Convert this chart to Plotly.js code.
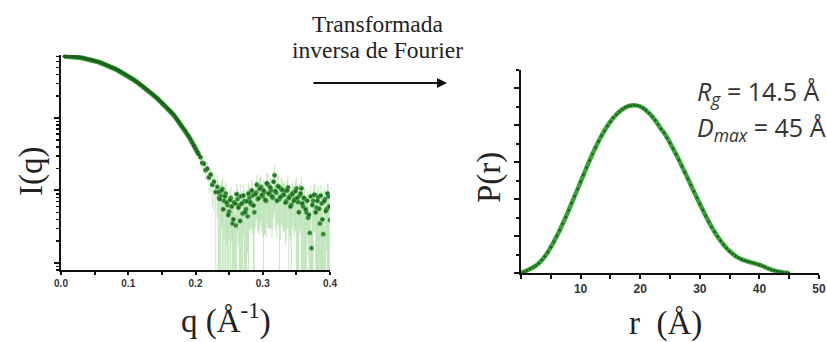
<!DOCTYPE html>
<html>
<head>
<meta charset="utf-8">
<script src="https://cdn.plot.ly/plotly-3.0.1.min.js"></script>
<style>
  html, body { margin: 0; padding: 0; background: #fff; }
  #chart { width: 827px; height: 342px; }
</style>
</head>
<body>
<div id="chart"></div>
<script>
// SAXS scattering curve I(q): smooth Guinier region (q from 0.005, step 0.0025)
const qStartSmooth = 0.005;
const qStep = 0.0025;
const intensitySmooth = [
  708, 708, 706.7, 705.3, 703.0, 700.2, 696.8, 692.9, 688.3, 683.2,
  677.6, 671.4, 664.6, 657.4, 649.7, 641.5, 632.9, 623.7, 614.4, 604.5,
  594.3, 583.7, 572.8, 561.6, 550.1, 538.5, 526.5, 514.4, 502.2, 489.8,
  477.4, 464.8, 452.1, 439.4, 426.7, 414.0, 401.3, 388.6, 376.1, 363.6,
  351.3, 339.1, 326.9, 315.0, 303.2, 291.5, 280.2, 269.0, 258.0, 247.3,
  236.8, 226.5, 216.5, 206.8, 197.3, 188.1, 179.2, 170.6, 162.2, 154.1,
  146.3, 138.7, 131.5, 124.4, 117.7, 109.9, 102.6, 95.7, 89.2, 82.0,
  76.3, 71.0, 65.9, 60.4, 55.4, 50.7, 45.8, 41.9, 37.8, 34.1, 31.1
];

// noisy high-q region, first set (q from 0.2075, step 0.0025)
const qStartNoisyA = 0.2075;
const intensityNoisyA = [
  28.8, 24.0, 23.4, 19.1, 20.0, 15.1, 16.6, 12.0, 13.2, 9.5, 11.2, 7.9,
  8.5, 10.5, 7.2, 9.1, 6.3, 5.1, 7.9, 3.5, 6.9, 3.3,
  7.6, 6.2, 8.3, 4.8, 7.1, 5.5, 4.4, 7.9, 6.5, 8.5,
  5.0, 9.3, 7.6, 10.5, 11.2, 8.3, 9.5, 7.2, 12.0, 8.9,
  10.0, 7.9, 16.2, 9.3, 11.5, 7.6, 10.5, 8.7, 9.8, 7.1,
  11.0, 8.3, 6.3, 9.3, 7.6, 10.7, 6.9, 8.5, 10.7, 6.0,
  7.6, 5.0, 4.2, 2.6, 1.6, 7.2, 8.7, 5.8, 8.1, 3.5,
  6.6, 2.5, 7.6, 5.5, 8.3, 3.9, 8.7, 6.3
];
const errLowA = [
  5, 5, 6, 5, 6, 6, 7, 6, 8, 10, 7, 8,
  9, 11, 5, 10, 7, 3, 8, 4, 7, 4,
  5, 7, 9, 5, 8, 6, 3, 5, 4, 6,
  5.5, 6, 5, 8, 8, 6, 7, 5, 9, 6,
  7, 5, 11, 6, 8, 8, 7, 6, 7, 5,
  8, 6, 7, 6, 5, 11, 7, 6, 11, 6.5,
  8, 5.5, 3, 3, 2, 8, 6, 6, 9, 4,
  7, 3, 8, 4, 9, 4, 9, 7
];
const errHighA = [
  3, 3, 4, 3, 4, 4, 4, 4, 4, 4, 5, 4,
  4, 4.5, 3, 4, 3, 2.5, 3.5, 2, 3, 1.5,
  3, 3, 4, 2, 3, 2.5, 2, 3.5, 3, 4,
  2.5, 4, 3.5, 4.5, 5, 3.5, 4, 3, 5, 4,
  4.5, 3.5, 6, 4, 5, 3.5, 4.5, 4, 4, 3,
  5, 3.5, 3, 4, 3.5, 4.5, 3, 4, 4.5, 3,
  3.5, 2.5, 2, 1.5, 1, 3, 4, 2.5, 3.5, 2,
  3, 1.5, 3.5, 2.5, 4, 2, 4, 3
];

// noisy high-q region, second set (q from 0.23375, step 0.0025)
const qStartNoisyB = 0.23375;
const intensityNoisyB = [
  9.5, 7.6, 10.0, 5.5, 8.3, 6.8, 4.6, 7.4, 6.0, 4.0,
  6.6, 8.9, 5.8, 3.8, 6.6, 8.5, 5.0, 7.1, 9.1, 6.9,
  10.0, 6.2, 8.9, 12.0, 7.8, 10.7, 8.7, 10.0, 7.4, 12.6,
  9.1, 11.0, 8.3, 13.2, 9.8, 7.2, 11.2, 8.1, 10.2, 8.7,
  6.8, 10.0, 7.9, 6.0, 8.9, 7.2, 9.8, 7.9, 5.0, 9.1,
  6.6, 7.9, 5.5, 7.2, 4.6, 8.3, 6.3, 8.7, 5.0, 7.2,
  5.6, 8.5, 4.0, 7.1, 5.2, 9.1, 6.0
];
const errLowB = [
  10, 8, 7, 6, 9, 5, 5, 8, 4, 4.5,
  7, 9, 4, 4, 7, 6, 5.5, 8, 9.5, 4,
  7, 6.5, 6, 8, 5, 7, 6, 11, 5, 9,
  6, 8, 6, 9, 7, 5, 8, 6, 7, 6,
  5, 7, 8.5, 4, 6, 5, 7, 8.5, 5.5, 6,
  7, 8.5, 6, 5, 5, 9, 6.5, 6, 5.5, 8,
  6, 9, 4.5, 7.5, 5.5, 9.5, 6.5
];
const errHighB = [
  3.5, 3, 4, 2.5, 3.5, 3, 2, 3, 2.5, 2,
  3, 3.5, 2.5, 1.5, 3, 3.5, 2, 3, 3.5, 3,
  4, 2.5, 3.5, 4.5, 3, 4, 3.5, 4, 3, 5,
  3.5, 4, 3, 5, 4, 3, 4.5, 3, 4, 3.5,
  3, 4, 3, 2.5, 3.5, 3, 4, 3, 2, 3.5,
  2.5, 3, 2.5, 3, 2, 3.5, 2.5, 3.5, 2, 3,
  2.5, 3.5, 2, 3, 2, 3.5, 2.5
];

// pair-distance distribution P(r), r from 0 to 45 Å in 0.5 Å steps
const rStart = 0;
const rStep = 0.5;
const pairDistribution = [
  0.000, 0.006, 0.014, 0.022, 0.030, 0.040, 0.053, 0.070, 0.090, 0.113,
  0.140, 0.169, 0.200, 0.232, 0.267, 0.302, 0.340, 0.378, 0.416, 0.455,
  0.494, 0.533, 0.571, 0.609, 0.645, 0.680, 0.713, 0.743, 0.771, 0.797,
  0.820, 0.841, 0.859, 0.874, 0.887, 0.897, 0.904, 0.908, 0.909, 0.907,
  0.902, 0.893, 0.881, 0.866, 0.848, 0.828, 0.805, 0.780, 0.760, 0.733,
  0.705, 0.675, 0.644, 0.612, 0.579, 0.545, 0.511, 0.477, 0.442, 0.408,
  0.374, 0.341, 0.309, 0.278, 0.249, 0.222, 0.197, 0.174, 0.153, 0.134,
  0.118, 0.104, 0.092, 0.082, 0.074, 0.068, 0.063, 0.058, 0.054, 0.049,
  0.044, 0.038, 0.031, 0.024, 0.018, 0.013, 0.009, 0.006, 0.003, 0.001,
  0.000
];

// tick labels
const qTickVals = [0, 0.1, 0.2, 0.3, 0.4];
const qTickText = ['0.0', '0.1', '0.2', '0.3', '0.4'];
const rTickVals = [10, 20, 30, 40, 50];
const rTickText = ['10', '20', '30', '40', '50'];

// text
const arrowCaption = ['Transformada', 'inversa de Fourier'];
const rgLabel = '<i>R</i><sub><i>g</i></sub> = 14.5 Å';
const dmaxLabel = '<i>D</i><sub><i>max</i></sub> = 45 Å';

const W = 827, H = 342;
const px = x => x / W;
const py = y => 1 - y / H;

const serif = 'Liberation Serif, Times New Roman, serif';
const sans = 'Open Sans, Liberation Sans, sans-serif';
const darkGreen = '#1c621c';
const green = '#3aa43a';
const errColor = 'rgba(110, 195, 100, 0.38)';

function noisyTrace(x0, y, low, high) {
  return {
    type: 'scatter', mode: 'markers', xaxis: 'x', yaxis: 'y',
    x0: x0, dx: qStep, y: y,
    error_y: { type: 'data', array: high, arrayminus: low, symmetric: false,
               color: errColor, thickness: 1, width: 0 },
    marker: { size: 4.4, color: '#226b22', line: { color: '#4fb04f', width: 0.6 } },
    hoverinfo: 'skip'
  };
}

const traces = [
  noisyTrace(qStartNoisyA, intensityNoisyA, errLowA, errHighA),
  noisyTrace(qStartNoisyB, intensityNoisyB, errLowB, errHighB),
  {
    type: 'scatter', mode: 'lines+markers', xaxis: 'x', yaxis: 'y',
    x0: qStartSmooth, dx: qStep, y: intensitySmooth,
    cliponaxis: false,
    line: { color: green, width: 5 },
    marker: { size: 3.6, color: darkGreen },
    hoverinfo: 'skip'
  },
  {
    type: 'scatter', mode: 'lines', xaxis: 'x2', yaxis: 'y2',
    x0: rStart, dx: rStep, y: pairDistribution,
    line: { color: green, width: 4.5, shape: 'spline' },
    cliponaxis: false, hoverinfo: 'skip'
  },
  {
    type: 'scatter', mode: 'markers', xaxis: 'x2', yaxis: 'y2',
    x0: rStart, dx: rStep, y: pairDistribution,
    marker: { size: 2.6, color: darkGreen },
    cliponaxis: false, hoverinfo: 'skip'
  }
];

const axisLine = { showline: true, linecolor: '#111', linewidth: 2, zeroline: false,
                   showgrid: false, ticks: 'outside', tickcolor: '#111', tickwidth: 2 };

const layout = {
  width: W, height: H,
  margin: { l: 0, r: 0, t: 0, b: 0 },
  paper_bgcolor: '#fff', plot_bgcolor: 'rgba(0,0,0,0)',
  showlegend: false,
  xaxis: Object.assign({}, axisLine, {
    domain: [px(61), px(330)], anchor: 'y', range: [0, 0.4],
    tickvals: qTickVals, ticktext: qTickText, ticklen: 3,
    minor: { dtick: 0.05, ticks: 'outside', ticklen: 3, tickwidth: 2, tickcolor: '#111' },
    tickfont: { family: 'Liberation Sans, Arial, sans-serif', size: 10, color: '#333', weight: 'bold' }
  }),
  yaxis: Object.assign({}, axisLine, {
    domain: [py(270), py(55)], anchor: 'x', type: 'log', range: [-0.097, 2.869],
    dtick: 1, ticklen: 5, showticklabels: false,
    minor: { dtick: 'D1', ticks: 'outside', ticklen: 3, tickwidth: 1.5, tickcolor: '#111' }
  }),
  xaxis2: Object.assign({}, axisLine, {
    domain: [px(521), px(819)], anchor: 'y2', range: [0, 50],
    tickvals: rTickVals, ticktext: rTickText, ticklen: 4,
    minor: { dtick: 5, ticks: 'outside', ticklen: 4, tickwidth: 2, tickcolor: '#111' },
    tickfont: { family: 'Liberation Sans, Arial, sans-serif', size: 12, color: '#333', weight: 'bold' }
  }),
  yaxis2: Object.assign({}, axisLine, {
    domain: [py(273), py(70)], anchor: 'x2', range: [0, 1.1],
    dtick: 0.2, ticklen: 5, showticklabels: false,
    minor: { dtick: 0.1, ticks: 'outside', ticklen: 3, tickwidth: 2, tickcolor: '#111' }
  }),
  annotations: [
    { xref: 'paper', yref: 'paper', x: px(378), y: py(24), text: arrowCaption[0], showarrow: false,
      xanchor: 'center', yanchor: 'middle', font: { family: serif, size: 23.5, color: '#222' } },
    { xref: 'paper', yref: 'paper', x: px(377), y: py(50), text: arrowCaption[1], showarrow: false,
      xanchor: 'center', yanchor: 'middle', font: { family: serif, size: 23.5, color: '#222' } },
    { xref: 'paper', yref: 'paper', x: px(447), y: py(83), ax: -135, ay: 0, text: '',
      showarrow: true, arrowhead: 2, arrowsize: 1, arrowwidth: 2, arrowcolor: '#111' },
    { xref: 'paper', yref: 'paper', x: px(31), y: py(172), text: 'I(q)', showarrow: false,
      textangle: -90, xanchor: 'center', yanchor: 'middle', font: { family: serif, size: 33, color: '#222' } },
    { xref: 'paper', yref: 'paper', x: px(226), y: py(318), text: 'q (Å<sup>-1</sup>)', showarrow: false,
      xanchor: 'center', yanchor: 'middle', font: { family: serif, size: 33, color: '#222' } },
    { xref: 'paper', yref: 'paper', x: px(489), y: py(178), text: 'P(r)', showarrow: false,
      textangle: -90, xanchor: 'center', yanchor: 'middle', font: { family: serif, size: 33, color: '#222' } },
    { xref: 'paper', yref: 'paper', x: px(665), y: py(323), text: 'r  (Å)', showarrow: false,
      xanchor: 'center', yanchor: 'middle', font: { family: serif, size: 33, color: '#222' } },
    { xref: 'paper', yref: 'paper', x: px(695), y: py(93), text: rgLabel, showarrow: false,
      xanchor: 'left', yanchor: 'middle', font: { family: sans, size: 25, color: '#333' } },
    { xref: 'paper', yref: 'paper', x: px(695), y: py(128), text: dmaxLabel, showarrow: false,
      xanchor: 'left', yanchor: 'middle', font: { family: sans, size: 25, color: '#333' } }
  ]
};

Plotly.newPlot('chart', traces, layout, { staticPlot: true, displayModeBar: false });
</script>
</body>
</html>
